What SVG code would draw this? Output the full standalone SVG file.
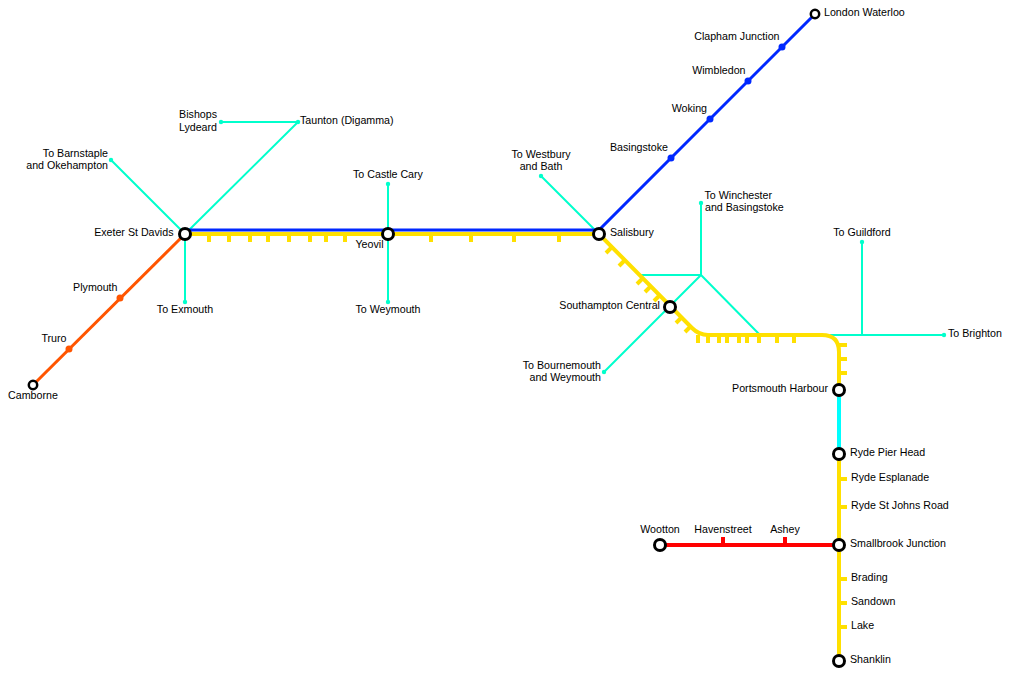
<svg xmlns="http://www.w3.org/2000/svg" width="1011" height="673" viewBox="0 0 1011 673">
<style>
text{font-family:"Liberation Sans",Arial,sans-serif;font-size:10.67px;fill:#000}
.e{text-anchor:end}.m{text-anchor:middle}
.br{stroke:#00ffcc;stroke-width:2;fill:none}
.bd{fill:#00ffcc}
.y{stroke:#ffe000;stroke-width:4;fill:none}
.t{stroke:#ffe000;stroke-width:4;fill:none}
.b{stroke:#0028ff;stroke-width:3;fill:none}
.o{stroke:#ff5500;stroke-width:3;fill:none}
.r{stroke:#ff0000;stroke-width:4;fill:none}
.s{fill:#fff;stroke:#000;stroke-width:3}
.n{fill:#fff;stroke:#000;stroke-width:2.5}
.bf{fill:#0028ff}.of{fill:#ff5500}
</style>
<rect width="1011" height="673" fill="#fff"/>
<g id="connectors">
<path class="br" d="M185 234L298 122H221M185 234L111 160M185 234V302M388 184V302M541 176L599 234M701 203V275H641M701 275L604 372M701 275L760 335M830 335H944M862 242V335"/>
<path d="M839 390V454" stroke="#00ffff" stroke-width="4" fill="none"/>
<path class="y" d="M185 234H599L692 328Q699 335 708 335H822Q839 335 839 352V390"/>
<path class="y" d="M839 454V661"/>
<path class="t" d="M209 234V242M229 234V242M250 234V242M268 234V242M289 234V242M310 234V242M326 234V242M345 234V242M431 234V242M471 234V242M514 234V242M559 234V242"/>
<path class="t" d="M612 247L606 253M625 260L619 266M643 278L637 284M651 286L645 292M660 295L654 301M682 317L676 323M691 326L685 332"/>
<path class="t" d="M698 335V343M708 335V343M719 335V343M727 335V343M739 335V343M747 335V343M759 335V343M777 335V343M794 335V343"/>
<path class="t" d="M839 345H847M839 359H847M839 373H847M839 479H847M839 507H847M839 579H847M839 603H847M839 627H847"/>
<path class="b" d="M185 230H599L815 14"/>
<path class="o" d="M185 234L33 385"/>
<path class="r" d="M660 545H839M723 545V537M785 545V537"/>
<g class="bd"><circle cx="298" cy="122" r="2.2"/><circle cx="221" cy="122" r="2.2"/><circle cx="111" cy="160" r="2.2"/><circle cx="185" cy="302" r="2.2"/><circle cx="388" cy="184" r="2.2"/><circle cx="388" cy="302" r="2.2"/><circle cx="541" cy="176" r="2.2"/><circle cx="701" cy="203" r="2.2"/><circle cx="604" cy="372" r="2.2"/><circle cx="944" cy="335" r="2.2"/><circle cx="862" cy="242" r="2.2"/></g>
<g class="bf"><circle cx="671" cy="158" r="3.5"/><circle cx="710" cy="119" r="3.5"/><circle cx="748" cy="81" r="3.5"/><circle cx="782" cy="47" r="3.5"/></g>
<g class="of"><circle cx="120" cy="298" r="3.5"/><circle cx="69" cy="349" r="3.5"/></g>
</g>
<g id="exeter"><circle class="s" cx="185" cy="234" r="5.5"/><text class="e" x="173.5" y="236">Exeter St Davids</text></g>
<g id="yeovil"><circle class="s" cx="388" cy="234" r="5.5"/><text class="e" x="383.5" y="248">Yeovil</text></g>
<g id="salisbury"><circle class="s" cx="599" cy="234" r="5.5"/><text x="610" y="236">Salisbury</text></g>
<g id="southampton"><circle class="s" cx="670" cy="307" r="5.5"/><text class="e" x="660" y="309">Southampton Central</text></g>
<g id="portsmouth"><circle class="s" cx="839" cy="390" r="5.5"/><text class="e" x="828" y="392">Portsmouth Harbour</text></g>
<g id="rydepier"><circle class="s" cx="839" cy="454" r="5.5"/><text x="850" y="456">Ryde Pier Head</text></g>
<g id="smallbrook"><circle class="s" cx="839" cy="545" r="5.5"/><text x="850" y="547">Smallbrook Junction</text></g>
<g id="shanklin"><circle class="s" cx="839" cy="661" r="5.5"/><text x="850" y="663">Shanklin</text></g>
<g id="wootton"><circle class="s" cx="660" cy="545" r="5.5"/><text class="m" x="660" y="533">Wootton</text></g>
<g id="waterloo"><circle class="n" cx="815" cy="14" r="4.2"/><text x="824" y="16">London Waterloo</text></g>
<g id="camborne"><circle class="n" cx="33" cy="385" r="4.2"/><text class="m" x="33" y="399">Camborne</text></g>
<g id="clapham"><text class="e" x="779.5" y="40">Clapham Junction</text></g>
<g id="wimbledon"><text class="e" x="745.5" y="74">Wimbledon</text></g>
<g id="woking"><text class="e" x="707" y="112">Woking</text></g>
<g id="basingstoke"><text class="e" x="668" y="151">Basingstoke</text></g>
<g id="plymouth"><text class="e" x="117.5" y="291">Plymouth</text></g>
<g id="truro"><text class="e" x="66.5" y="342">Truro</text></g>
<g id="bishops"><text class="e" x="217" y="118">Bishops</text><text class="e" x="217" y="131">Lydeard</text></g>
<g id="taunton"><text x="300" y="124">Taunton (Digamma)</text></g>
<g id="barnstaple"><text class="e" x="108" y="157">To Barnstaple</text><text class="e" x="108" y="169">and Okehampton</text></g>
<g id="exmouth"><text class="m" x="185" y="313">To Exmouth</text></g>
<g id="castlecary"><text class="m" x="388" y="178">To Castle Cary</text></g>
<g id="weymouth"><text class="m" x="388" y="313">To Weymouth</text></g>
<g id="westbury"><text class="m" x="541" y="158">To Westbury</text><text class="m" x="541" y="170">and Bath</text></g>
<g id="winchester"><text x="704.5" y="199">To Winchester</text><text x="705" y="211">and Basingstoke</text></g>
<g id="guildford"><text class="m" x="862" y="236">To Guildford</text></g>
<g id="brighton"><text x="948" y="337">To Brighton</text></g>
<g id="bournemouth"><text class="e" x="601" y="369">To Bournemouth</text><text class="e" x="601" y="381">and Weymouth</text></g>
<g id="esplanade"><text x="851" y="481">Ryde Esplanade</text></g>
<g id="stjohns"><text x="851" y="509">Ryde St Johns Road</text></g>
<g id="brading"><text x="851" y="581">Brading</text></g>
<g id="sandown"><text x="851" y="605">Sandown</text></g>
<g id="lake"><text x="851" y="629">Lake</text></g>
<g id="havenstreet"><text class="m" x="723" y="533">Havenstreet</text></g>
<g id="ashey"><text class="m" x="785" y="533">Ashey</text></g>
</svg>
